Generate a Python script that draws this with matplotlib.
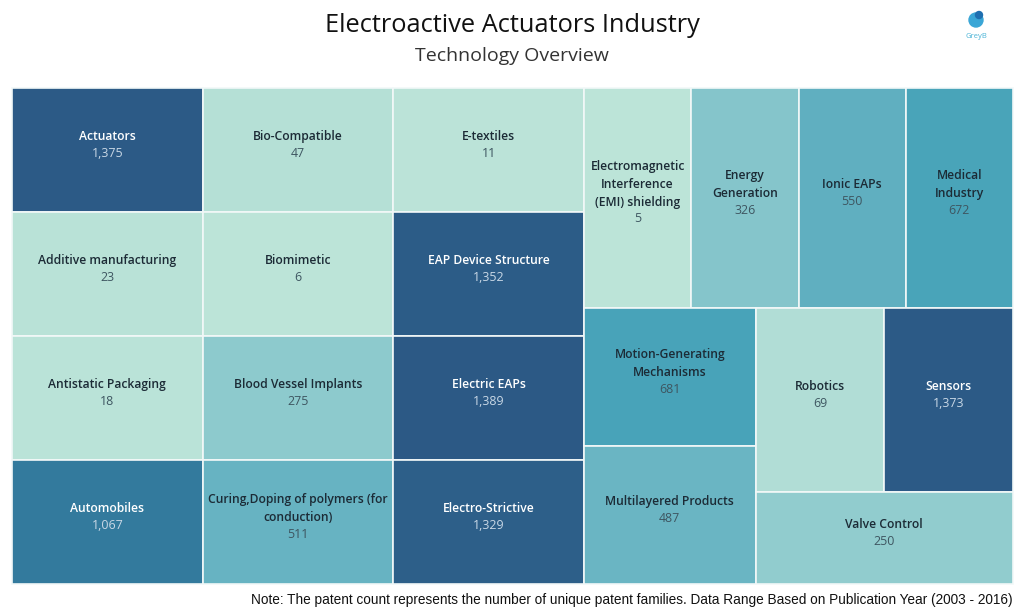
import matplotlib
matplotlib.use("Agg")
import matplotlib.pyplot as plt
from matplotlib.colors import LinearSegmentedColormap, Normalize
from matplotlib.patches import Rectangle, Circle

# Data (tiles are filled in alphabetical order)
names = [
    "Actuators", "Additive manufacturing", "Antistatic Packaging", "Automobiles",
    "Bio-Compatible", "Biomimetic", "Blood Vessel Implants",
    "Curing,Doping of polymers (for\nconduction)",
    "E-textiles", "EAP Device Structure", "Electric EAPs", "Electro-Strictive",
    "Electromagnetic\nInterference\n(EMI) shielding", "Energy\nGeneration", "Ionic EAPs",
    "Medical\nIndustry", "Motion-Generating\nMechanisms", "Multilayered Products",
    "Robotics", "Sensors", "Valve Control",
]
counts = [1375, 23, 18, 1067, 47, 6, 275, 511, 11, 1352, 1389, 1329,
          5, 326, 550, 672, 681, 487, 69, 1373, 250]

title = "Electroactive Actuators Industry"
subtitle = "Technology Overview"
note = ("Note: The patent count represents the number of unique patent families. "
        "Data Range Based on Publication Year (2003 - 2016)")

# Tableau "Blue-Teal" sequential palette
blue_teal = ["#bce4d8", "#aedcd5", "#a1d5d2", "#95cecf", "#89c8cc", "#7ec1ca",
             "#72bac6", "#66b2c2", "#59acbe", "#4ba5ba", "#419eb6", "#3b96b2",
             "#358ead", "#3586a7", "#347ea1", "#32779b", "#316f96", "#2f6790",
             "#2d608a", "#2c5985"]
cmap = LinearSegmentedColormap.from_list("blue_teal", blue_teal)
norm = Normalize(min(counts), max(counts))

# Treemap layout: every tile has equal size; 'h' splits left->right, 'v' top->bottom
col = ("v", [1, 1, 1, 1])
layout = ("h", [col, col, col,
                ("v", [("h", [1, 1, 1, 1]),
                       ("h", [("v", [1, 1]),
                              ("v", [("h", [1, 1]), 1])])])])


def n_leaves(node):
    if node == 1:
        return 1
    return sum(n_leaves(c) for c in node[1])


def split(node, x, y, w, h, out):
    if node == 1:
        out.append((x, y, w, h))
        return
    d, kids = node
    total = n_leaves(node)
    pos = 0
    for k in kids:
        frac = n_leaves(k) / total
        if d == "h":
            split(k, x + pos * w, y, frac * w, h, out)
        else:
            split(k, x, y + pos * h, w, frac * h, out)
        pos += frac


rects = []
split(layout, 12, 88, 1001, 496, rects)

fig = plt.figure(figsize=(10.24, 6.15), dpi=100)
ax = fig.add_axes([0, 0, 1, 1])
ax.set_xlim(0, 1024)
ax.set_ylim(615, 0)
ax.axis("off")

font = "Open Sans"
line_h = 17

for (x, y, w, h), name, v in zip(rects, names, counts):
    ax.add_patch(Rectangle((x, y), w, h, facecolor=cmap(norm(v)),
                           edgecolor="#f2f8f8", linewidth=1.2))
    dark = norm(v) > 0.7
    name_c = "#ffffff" if dark else "#1c2b36"
    num_c = "#c9d8e6" if dark else "#3e5661"
    lines = name.split("\n")
    n = len(lines) + 1
    cx = x + w / 2
    y0 = y + h / 2 - 5 - (n - 1) * line_h / 2
    ax.text(cx, y0 + (len(lines) - 1) * line_h / 2, name, ha="center", va="center",
            fontsize=8.7, fontweight="semibold", color=name_c, family=font,
            linespacing=1.5)
    ax.text(cx, y0 + len(lines) * line_h, f"{v:,}", ha="center", va="center",
            fontsize=8.9, color=num_c, family=font)

ax.text(512, 26, title, ha="center", va="center", fontsize=18.3, color="#111111",
        family=font, fontweight="medium")
ax.text(512, 56, subtitle, ha="center", va="center", fontsize=14, color="#333333", family=font)
ax.text(1013, 600, note, ha="right", va="center", fontsize=9.8, color="#111111",
        family="Liberation Sans")

# GreyB logo
ax.add_patch(Circle((976, 20), 7, color="#3aa6d6"))
ax.add_patch(Circle((979, 15), 3.5, color="#1f6fb0"))
ax.text(976, 36, "GreyB", ha="center", va="center", fontsize=5.5, color="#49b3d6", family=font)

fig.savefig("out.png", dpi=100)
